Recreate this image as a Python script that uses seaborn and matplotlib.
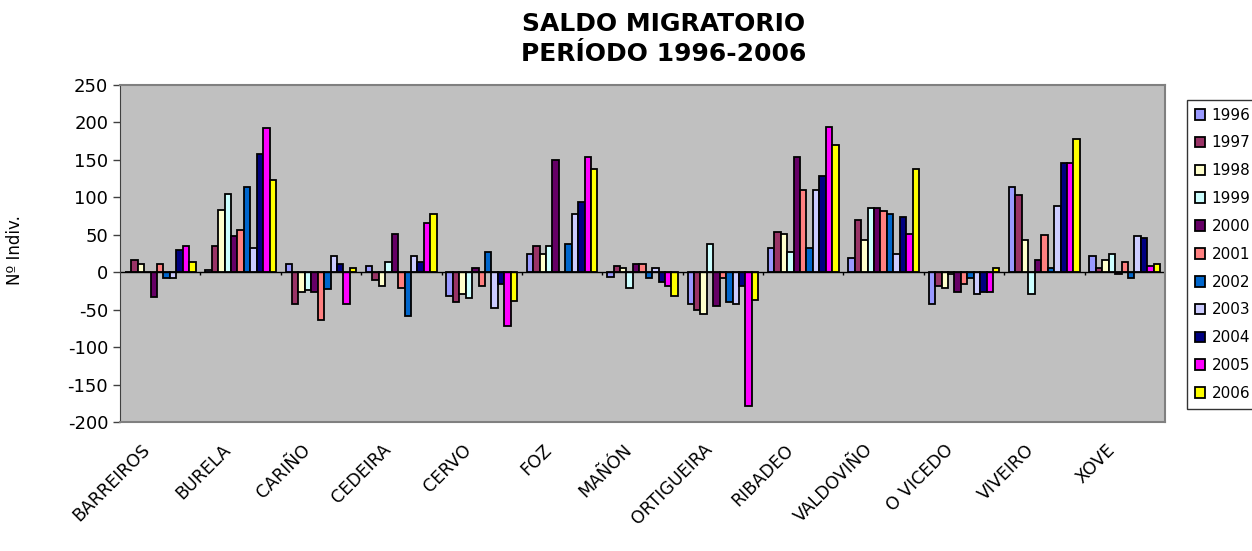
import matplotlib
matplotlib.use("Agg")
from matplotlib import pyplot as plt
from matplotlib.transforms import ScaledTranslation
import seaborn as sns
import numpy as np
import pandas as pd

# datos leídos do gráfico (saldo migratorio por concello e ano)
concellos = ["BARREIROS", "BURELA", "CARIÑO", "CEDEIRA", "CERVO", "FOZ", "MAÑÓN",
             "ORTIGUEIRA", "RIBADEO", "VALDOVIÑO", "O VICEDO", "VIVEIRO", "XOVE"]
anos = ["1996", "1997", "1998", "1999", "2000", "2001", "2002", "2003", "2004", "2005", "2006"]

barreiros = [0, 16, 11, 0, -33, 11, -8, -8, 29, 35, 13]
burela = [3, 35, 83, 104, 48, 56, 114, 32, 157, 192, 123]
carino = [11, -43, -27, -24, -27, -64, -22, 21, 11, -43, 5]
cedeira = [8, -11, -19, 13, 51, -21, -59, 22, 13, 66, 77]
cervo = [-32, -40, -29, -35, 5, -19, 27, -48, -16, -72, -39]
foz = [24, 35, 24, 35, 149, 0, 38, 77, 93, 154, 138]
manon = [-6, 8, 5, -21, 11, 11, -8, 5, -13, -19, -32]
ortigueira = [-43, -51, -56, 37, -45, -8, -40, -43, -19, -178, -37]
ribadeo = [32, 53, 51, 27, 154, 109, 32, 109, 128, 194, 170]
valdovino = [19, 69, 43, 85, 85, 82, 77, 24, 74, 51, 138]
o_vicedo = [-43, -19, -21, -3, -27, -16, -8, -29, -27, -27, 5]
viveiro = [114, 103, 43, -29, 16, 50, 5, 88, 146, 146, 178]
xove = [21, 5, 16, 24, -3, 13, -8, 48, 45, 8, 11]

valores = [barreiros, burela, carino, cedeira, cervo, foz, manon,
           ortigueira, ribadeo, valdovino, o_vicedo, viveiro, xove]

cores = ["#9999FF", "#993366", "#FFFFCC", "#CCFFFF", "#660066", "#FF8080",
         "#0066CC", "#CCCCFF", "#000080", "#FF00FF", "#FFFF00"]

df = pd.DataFrame(
    [(c, a, v) for c, fila in zip(concellos, valores) for a, v in zip(anos, fila)],
    columns=["concello", "ano", "saldo"],
)

plt.rcParams["axes.unicode_minus"] = False

fig = plt.figure(figsize=(12.52, 5.51), dpi=100)
ax = fig.add_axes([120 / 1252, 1 - 422 / 551, (1165 - 120) / 1252, (422 - 84.7) / 551])
ax.set_facecolor("#C0C0C0")

sns.barplot(data=df, x="concello", y="saldo", hue="ano", hue_order=anos,
            order=concellos, palette=cores, width=0.88, gap=0, errorbar=None,
            edgecolor="black", linewidth=1.3, saturation=1, ax=ax)

# eixo cero e pequenas marcas entre categorías
ax.axhline(0, color="black", lw=1, zorder=1)
ax.vlines(np.arange(1, len(concellos)) - 0.5, -4, 0, color="black", lw=1, zorder=1)

ax.set_ylim(-200, 250)
ax.set_xlim(-0.5, len(concellos) - 0.5)
ax.set_yticks(np.arange(-200, 251, 50))
ax.tick_params(axis="y", labelsize=13, length=5, width=1, direction="out", color="#404040")
ax.tick_params(axis="x", length=0, pad=18)
ax.set_xticks(range(len(concellos)))
ax.set_xticklabels(concellos, rotation=45, ha="right", va="center",
                   rotation_mode="anchor", fontsize=12.5)
desprazamento = ScaledTranslation(-0.13, 0, fig.dpi_scale_trans)
for etiqueta in ax.get_xticklabels():
    etiqueta.set_transform(etiqueta.get_transform() + desprazamento)
ax.set_xlabel("")
ax.set_ylabel("")

for lado in ["top", "right", "bottom"]:
    ax.spines[lado].set_color("#808080")
    ax.spines[lado].set_linewidth(1.5)
ax.spines["left"].set_color("#404040")

fig.text(15 / 1252, 1 - 250 / 551, "Nº Indiv.", rotation=90, va="center", ha="center", fontsize=12)
fig.text(664 / 1252, 1 - 39 / 551, "SALDO MIGRATORIO\nPERÍODO 1996-2006", ha="center", va="center",
         fontsize=18, fontweight="bold", linespacing=1.28)

handles, labels = ax.get_legend_handles_labels()
ax.get_legend().remove()
leg = fig.legend(handles, labels, loc="upper left", bbox_to_anchor=(1187 / 1252, 1 - 100 / 551),
                 bbox_transform=fig.transFigure, borderaxespad=0, frameon=True, fancybox=False,
                 fontsize=11, labelspacing=0.84, handlelength=0.7, handleheight=0.7,
                 handletextpad=0.4, borderpad=0.5)
leg.get_frame().set_edgecolor("black")
leg.get_frame().set_linewidth(1)

fig.savefig("out.png", dpi=100, facecolor="white")
